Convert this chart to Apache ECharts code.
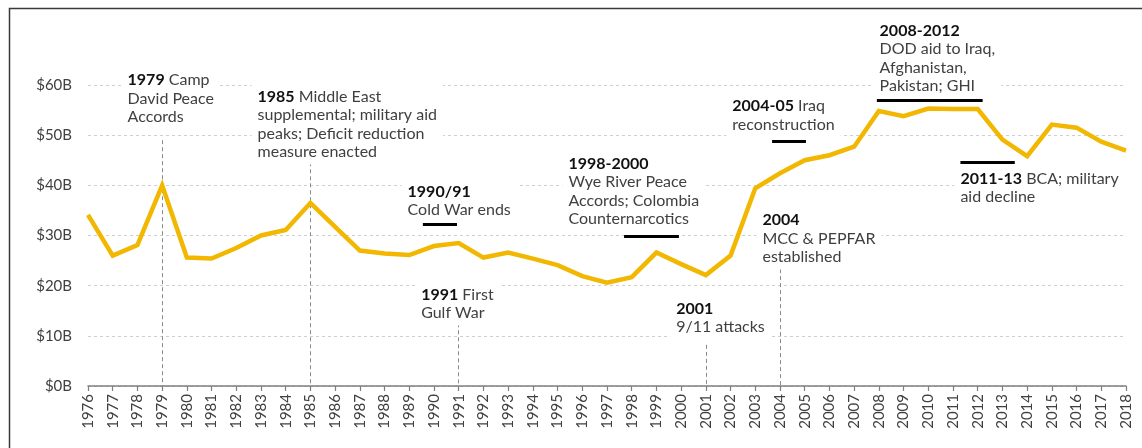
<!DOCTYPE html>
<html><head><meta charset="utf-8">
<script src="https://cdn.jsdelivr.net/npm/echarts@6/dist/echarts.min.js"></script>
<style>html,body{margin:0;padding:0;background:#fff}#c{width:1142px;height:448px}</style>
</head><body><div id="c"></div>
<script>
// ---- data ----
const years = [1976,1977,1978,1979,1980,1981,1982,1983,1984,1985,1986,1987,1988,1989,1990,1991,1992,1993,1994,1995,1996,1997,1998,1999,2000,2001,2002,2003,2004,2005,2006,2007,2008,2009,2010,2011,2012,2013,2014,2015,2016,2017,2018];
const aidValues = [34.1,26.0,28.1,40.0,25.6,25.4,27.5,30.0,31.1,36.5,31.7,27.0,26.4,26.1,27.9,28.5,25.6,26.6,25.4,24.1,21.9,20.6,21.7,26.6,24.3,22.1,26.0,39.4,42.4,45.0,46.0,47.7,54.8,53.8,55.3,55.2,55.2,49.1,45.8,52.1,51.5,48.7,46.9];
const yTickValues = [0,10,20,30,40,50,60];

// annotation texts (bold lead, rest), anchored at [year, value] of text bottom-left
const noteLabels = [
  '{b|1979} Camp\nDavid Peace\nAccords',
  '{b|1985} Middle East\nsupplemental; military aid\npeaks; Deficit reduction\nmeasure enacted',
  '{b|1990/91}\nCold War ends',
  '{b|1991} First\nGulf War',
  '{b|1998-2000}\nWye River Peace\nAccords; Colombia\nCounternarcotics',
  '{b|2001}\n9/11 attacks',
  '{b|2004}\nMCC & PEPFAR\nestablished',
  '{b|2004-05} Iraq\nreconstruction',
  '{b|2008-2012}\nDOD aid to Iraq,\nAfghanistan,\nPakistan; GHI',
  '{b|2011-13} BCA; military\naid decline'
];
const noteAnchors = [
  [1977.62, 51.63], [1982.88, 44.65], [1988.95, 33.09], [1989.50, 12.56],
  [1995.46, 31.30], [1999.82, 9.77], [2003.31, 23.72], [2002.09, 50.13],
  [2008.05, 57.81], [2011.32, 35.68]
];
// periods marked with black bars: [start, end, level]
const periodBars = [
  [1989.55, 1990.93, 32.3],
  [1997.69, 1999.91, 29.9],
  [2003.68, 2005.05, 48.8],
  [2007.92, 2012.20, 57.0],
  [2011.30, 2013.50, 44.6]
];
// single-year events marked with dashed drop lines: [year, top]
const eventLines = [
  [1979, 49.0], [1985, 44.6], [1991, 12.5], [2001, 8.2], [2004, 23.3]
];

// ---- chart ----
const FONT = 'Lato, "Open Sans", sans-serif';
const TEXT = '#404040';
const chart = echarts.init(document.getElementById('c'), null, {renderer: 'canvas'});

const seriesData = years.map((y, i) => [y, aidValues[i]]);

const notePoints = noteLabels.map((txt, i) => ({
  coord: noteAnchors[i],
  symbol: 'rect',
  symbolSize: 1,
  itemStyle: {color: 'rgba(0,0,0,0)'},
  label: {
    show: true,
    position: [0, 0],
    align: 'left',
    verticalAlign: 'bottom',
    formatter: txt,
    color: TEXT,
    fontFamily: FONT,
    fontSize: 16,
    lineHeight: 18.5,
    backgroundColor: '#fff',
    padding: [3, 6, 3, 6],
    offset: [-6, 3],
    rich: {
      b: {fontWeight: 'bold', color: '#111', fontFamily: FONT, fontSize: 16, lineHeight: 18.5}
    }
  }
}));

const barLines = periodBars.map(b => [
  {coord: [b[0], b[2]], lineStyle: {type: 'solid', color: '#000', width: 3}},
  {coord: [b[1], b[2]]}
]);
const dropLines = eventLines.map(e => [
  {coord: [e[0], e[1]], lineStyle: {type: [4, 3], color: '#8a8a8a', width: 1}},
  {coord: [e[0], 0]}
]);

chart.setOption({
  animation: false,
  backgroundColor: '#fff',
  textStyle: {fontFamily: FONT},
  grid: {left: 88, right: 16, top: 85, bottom: 62, containLabel: false},
  xAxis: {
    type: 'value',
    min: 1976, max: 2018, interval: 1,
    axisLine: {show: true, onZero: false, lineStyle: {color: '#7f7f7f', width: 1.5}},
    axisTick: {show: true, length: 5, lineStyle: {color: '#7f7f7f', width: 1.2}},
    splitLine: {show: false},
    axisLabel: {
      rotate: 90, margin: 8, color: TEXT, fontSize: 15, fontFamily: FONT,
      formatter: v => String(v)
    }
  },
  yAxis: {
    type: 'value',
    min: 0, max: 60, interval: 10,
    axisLine: {show: false},
    axisTick: {show: false},
    splitLine: {show: true, lineStyle: {type: [3, 3], color: '#cfcfcf', width: 1}},
    axisLabel: {
      color: TEXT, fontSize: 15, fontFamily: FONT, margin: 16,
      formatter: v => yTickValues.includes(v) ? '$' + v + 'B' : ''
    }
  },
  series: [
    {
      name: 'annotations',
      type: 'line',
      data: [],
      z: 2,
      silent: true,
      markLine: {
        silent: true, symbol: 'none', label: {show: false},
        animation: false,
        data: dropLines.concat(barLines)
      },
      markPoint: {
        silent: true, animation: false,
        data: notePoints
      }
    },
    {
      name: 'Foreign aid',
      type: 'line',
      data: seriesData,
      z: 5,
      symbol: 'none',
      lineStyle: {color: '#F2B700', width: 4.5, join: 'miter'},
      itemStyle: {color: '#F2B700'}
    }
  ],
  graphic: [{
    type: 'rect',
    left: 7, top: 6,
    shape: {width: 1200, height: 500},
    style: {fill: 'none', stroke: '#3a3a3a', lineWidth: 1.5},
    silent: true, z: 100
  }]
});
</script>
</body></html>
